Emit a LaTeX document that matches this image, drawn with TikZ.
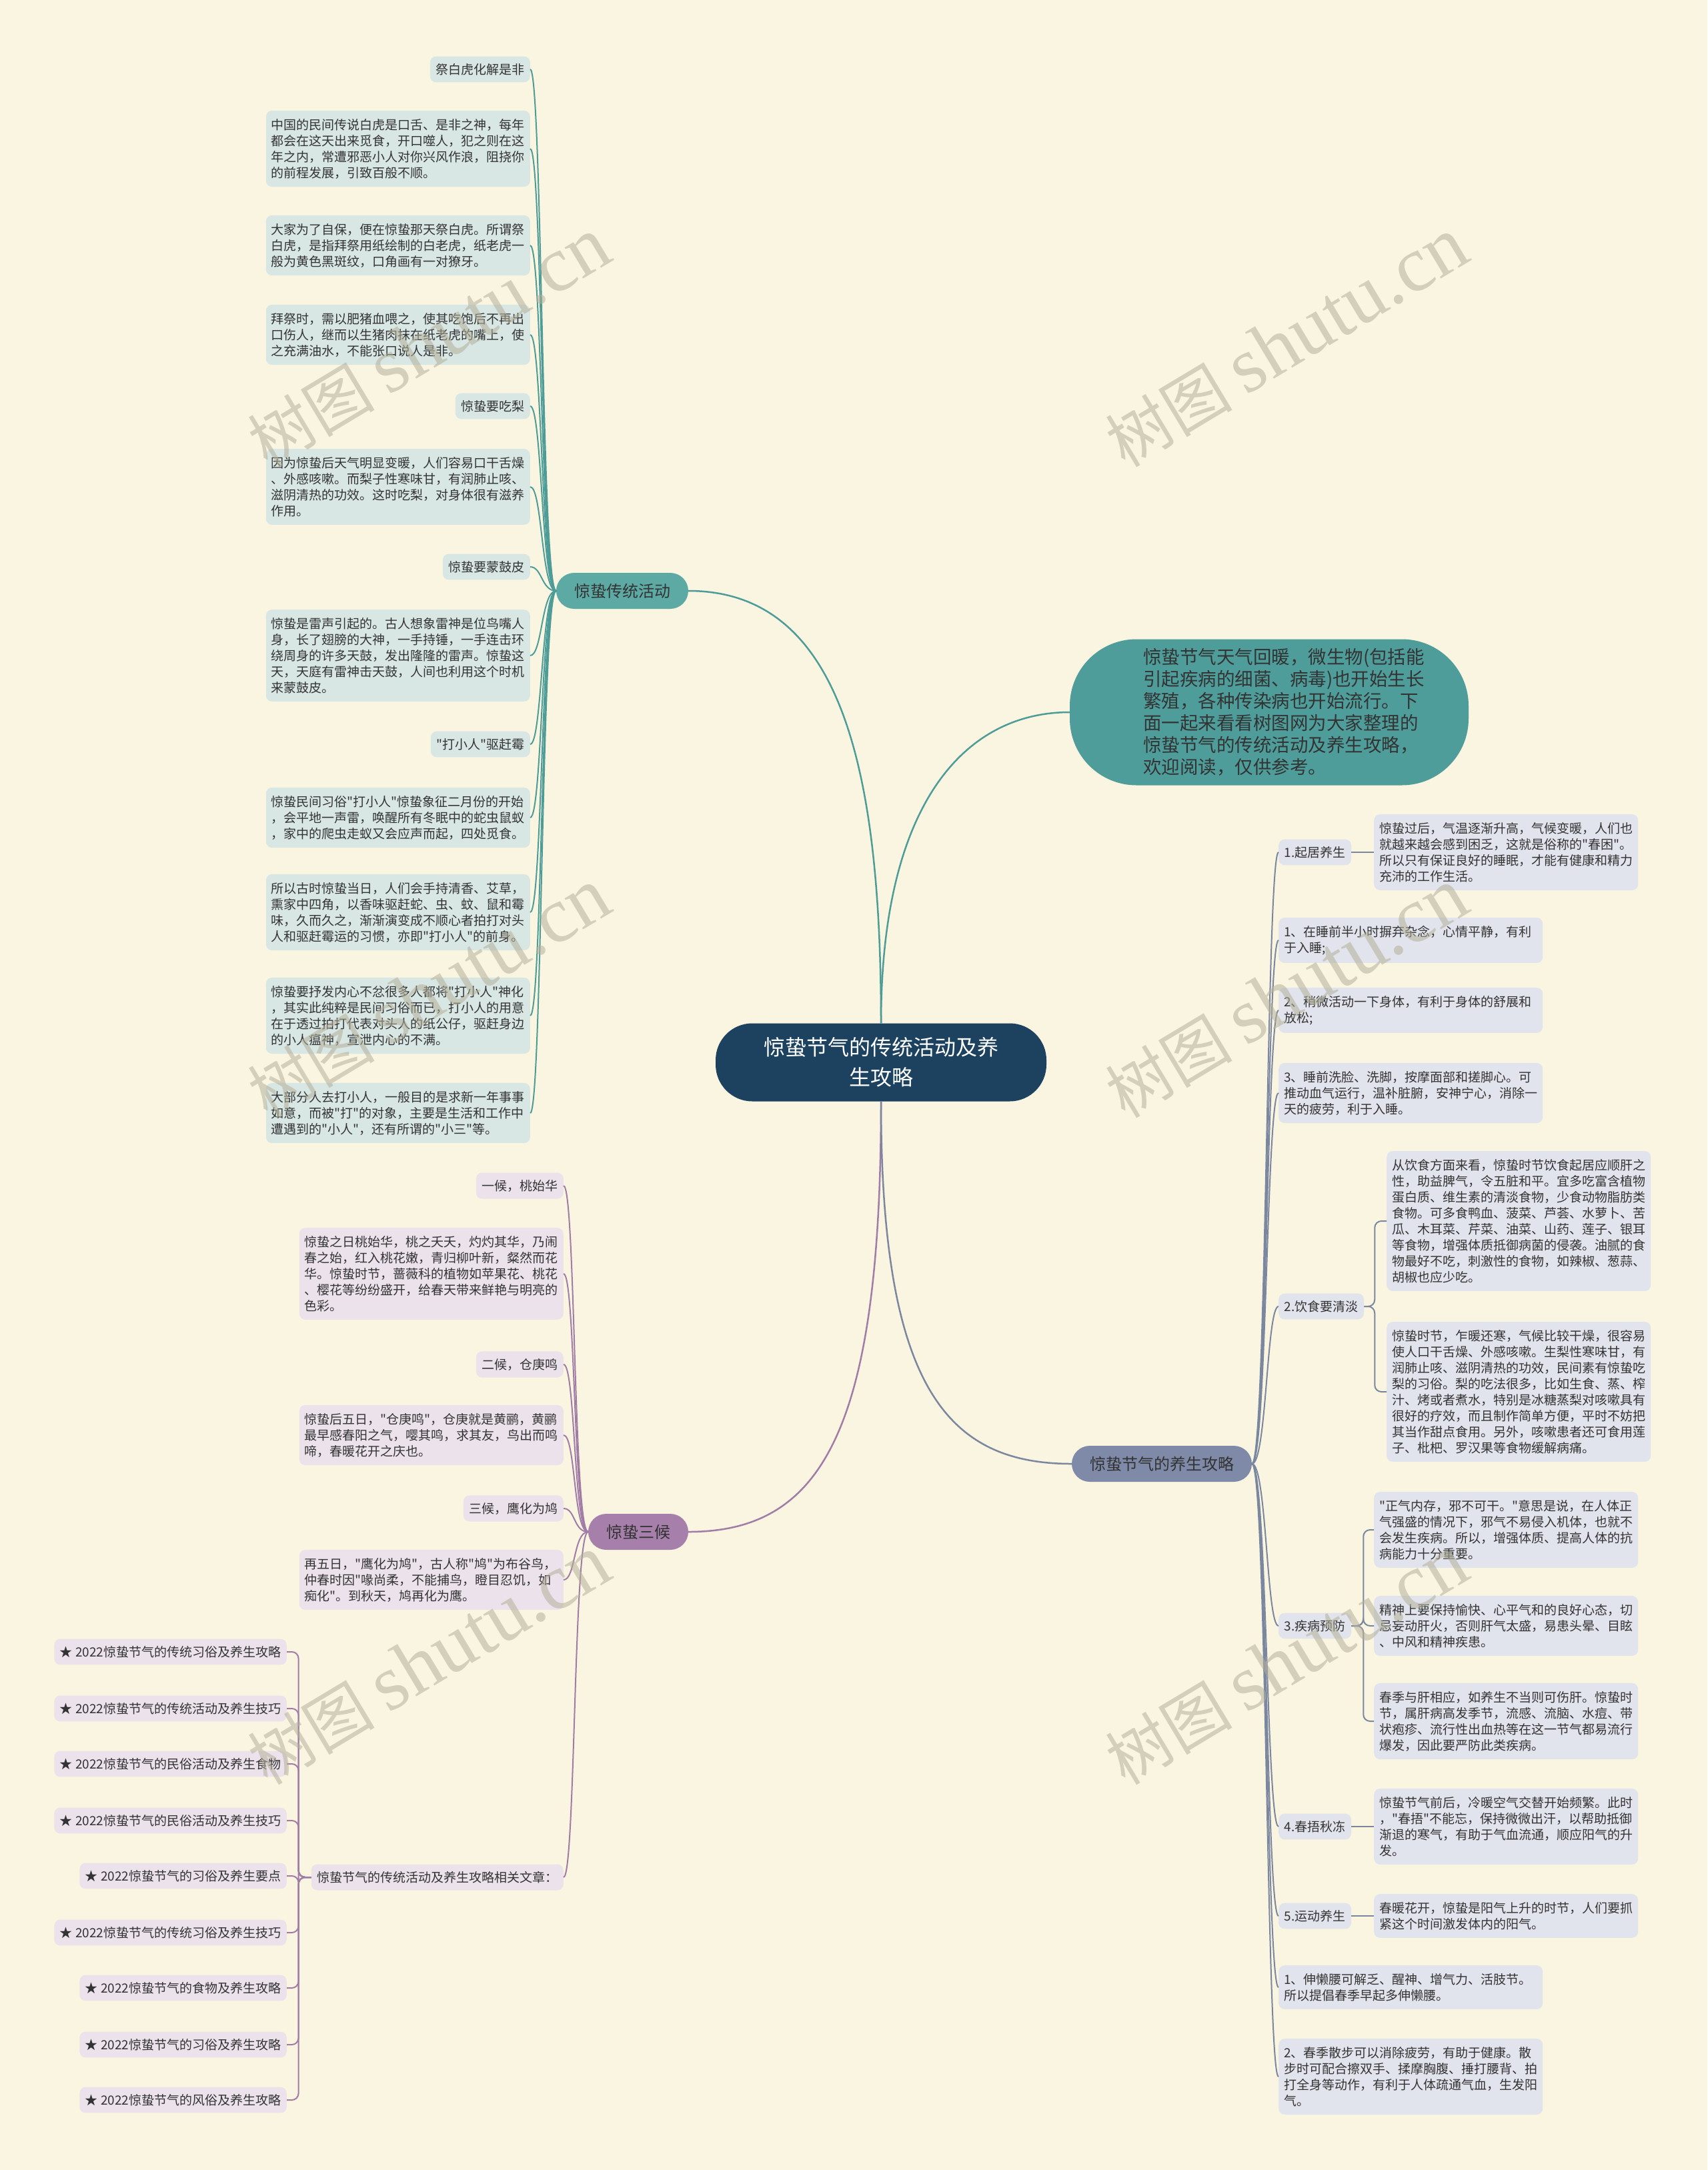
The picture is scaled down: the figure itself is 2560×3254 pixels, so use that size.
\documentclass[tikz,border=0pt]{standalone}
\usepackage{fontspec}
\setmainfont{Noto Sans CJK SC}[Ligatures=TeXOff]
\newfontfamily\wmlatin{Liberation Serif}

\definecolor{bg}{HTML}{FAF5E1}
\definecolor{ink}{HTML}{333333}
\definecolor{hubfill}{HTML}{1C4260}
\definecolor{introfill}{HTML}{4E9D9A}
\definecolor{tealln}{HTML}{4D9C98}
\definecolor{tealmid}{HTML}{5DA9A4}
\definecolor{tealbox}{HTML}{D8E6E4}
\definecolor{plumln}{HTML}{A07CA6}
\definecolor{plummid}{HTML}{A67FAA}
\definecolor{plumbox}{HTML}{EBE2EC}
\definecolor{slateln}{HTML}{7B879F}
\definecolor{slatemid}{HTML}{7F8AA8}
\definecolor{slatebox}{HTML}{E1E4EC}
\definecolor{wmgray}{HTML}{B3B09A}

\tikzset{
  leaf/.style={rounded corners=9pt, inner xsep=8pt, inner ysep=12pt, text width=380pt,
    align=left, text=ink, font=\fontsize{19}{24}\selectfont},
  tag/.style={rounded corners=9pt, inner xsep=8.5pt, inner ysep=10.5pt, text=ink,
    font=\fontsize{19}{24}\selectfont},
  tleaf/.style={leaf, fill=tealbox}, ttag/.style={tag, fill=tealbox},
  pleaf/.style={leaf, fill=plumbox}, ptag/.style={tag, fill=plumbox},
  sleaf/.style={leaf, fill=slatebox}, stag/.style={tag, fill=slatebox},
  branch/.style={rounded corners=27pt, minimum height=54pt, inner xsep=27pt, text=ink,
    font=\fontsize{24}{28}\selectfont},
  tealline/.style={draw=tealln, line width=2pt},
  plumline/.style={draw=plumln, line width=2pt},
  slateline/.style={draw=slateln, line width=2pt},
  wmark/.style={rotate=31, text=wmgray, opacity=0.55, font=\fontsize{95}{95}\selectfont}
}

\begin{document}
\begin{tikzpicture}[x=1pt, y=-1pt]
  \fill[bg] (0,0) rectangle (2560,3254);
  \useasboundingbox (0,0) rectangle (2560,3254);

  % centre and main branches
  \node[fill=hubfill, text=white, rounded corners=55pt, minimum width=496pt, minimum height=117pt,
    align=center, font=\fontsize{32}{45}\selectfont] (ctr) at (1321,1593) {惊蛰节气的传统活动及养\\生攻略};
  \node[fill=introfill, text=ink, rounded corners=100pt, minimum width=598pt, minimum height=219pt,
    text width=378pt, align=left, font=\fontsize{27.5}{33}\selectfont] (intro) at (1903,1068)
    {惊蛰节气天气回暖，微生物(包括能\\引起疾病的细菌、病毒)也开始生长\\繁殖，各种传染病也开始流行。下\\面一起来看看树图网为大家整理的\\惊蛰节气的传统活动及养生攻略，\\欢迎阅读，仅供参考。};
  \node[branch, fill=tealmid] (trad) at (933,886) {惊蛰传统活动};
  \node[branch, fill=plummid] (three) at (957,2297) {惊蛰三候};
  \node[branch, fill=slatemid] (care) at (1742,2195) {惊蛰节气的养生攻略};

  \draw[tealline, line width=2.5pt] (ctr.north) .. controls (1321,1150) and (1260,886) .. (trad.east);
  \draw[tealline, line width=2.5pt] (ctr.north) .. controls (1321,1200) and (1450,1068) .. (intro.west);
  \draw[plumline, line width=2.5pt] (ctr.south) .. controls (1321,2150) and (1230,2297) .. (three.east);
  \draw[slateline, line width=2.5pt] (ctr.south) .. controls (1321,2080) and (1420,2195) .. (care.west);

  % traditional activities
  \node[ttag, anchor=east] (l1) at (795,104) {祭白虎化解是非};
  \node[tleaf, anchor=east] (l2) at (795,223) {中国的民间传说白虎是口舌、是非之神，每年\\都会在这天出来觅食，开口噬人，犯之则在这\\年之内，常遭邪恶小人对你兴风作浪，阻挠你\\的前程发展，引致百般不顺。};
  \node[tleaf, anchor=east] (l3) at (795,368) {大家为了自保，便在惊蛰那天祭白虎。所谓祭\\白虎，是指拜祭用纸绘制的白老虎，纸老虎一\\般为黄色黑斑纹，口角画有一对獠牙。};
  \node[tleaf, anchor=east] (l4) at (795,502) {拜祭时，需以肥猪血喂之，使其吃饱后不再出\\口伤人，继而以生猪肉抹在纸老虎的嘴上，使\\之充满油水，不能张口说人是非。};
  \node[ttag, anchor=east] (l5) at (795,609) {惊蛰要吃梨};
  \node[tleaf, anchor=east] (l6) at (795,730) {因为惊蛰后天气明显变暖，人们容易口干舌燥\\、外感咳嗽。而梨子性寒味甘，有润肺止咳、\\滋阴清热的功效。这时吃梨，对身体很有滋养\\作用。};
  \node[ttag, anchor=east] (l7) at (795,850) {惊蛰要蒙鼓皮};
  \node[tleaf, anchor=east] (l8) at (795,983) {惊蛰是雷声引起的。古人想象雷神是位鸟嘴人\\身，长了翅膀的大神，一手持锤，一手连击环\\绕周身的许多天鼓，发出隆隆的雷声。惊蛰这\\天，天庭有雷神击天鼓，人间也利用这个时机\\来蒙鼓皮。};
  \node[ttag, anchor=east] (l9) at (795,1116) {"打小人"驱赶霉};
  \node[tleaf, anchor=east] (l10) at (795,1226) {惊蛰民间习俗"打小人"惊蛰象征二月份的开始\\，会平地一声雷，唤醒所有冬眠中的蛇虫鼠蚁\\，家中的爬虫走蚁又会应声而起，四处觅食。};
  \node[tleaf, anchor=east] (l11) at (795,1368) {所以古时惊蛰当日，人们会手持清香、艾草，\\熏家中四角，以香味驱赶蛇、虫、蚊、鼠和霉\\味，久而久之，渐渐演变成不顺心者拍打对头\\人和驱赶霉运的习惯，亦即"打小人"的前身。};
  \node[tleaf, anchor=east] (l12) at (795,1523) {惊蛰要抒发内心不忿很多人都将"打小人"神化\\，其实此纯粹是民间习俗而已，打小人的用意\\在于透过拍打代表对头人的纸公仔，驱赶身边\\的小人瘟神，宣泄内心的不满。};
  \node[tleaf, anchor=east] (l13) at (795,1669) {大部分人去打小人，一般目的是求新一年事事\\如意，而被"打"的对象，主要是生活和工作中\\遭遇到的"小人"，还有所谓的"小三"等。};
  \foreach \i in {1,...,13}
    \draw[tealline] (trad.west) .. controls +(-22,0) and +(18,0) .. (l\i.east);

  % three pentads
  \node[ptag, anchor=east] (p1) at (845,1778) {一候，桃始华};
  \node[pleaf, anchor=east] (p2) at (845,1910) {惊蛰之日桃始华，桃之夭夭，灼灼其华，乃闹\\春之始，红入桃花嫩，青归柳叶新，粲然而花\\华。惊蛰时节，蔷薇科的植物如苹果花、桃花\\、樱花等纷纷盛开，给春天带来鲜艳与明亮的\\色彩。};
  \node[ptag, anchor=east] (p3) at (845,2046) {二候，仓庚鸣};
  \node[pleaf, anchor=east] (p4) at (845,2152) {惊蛰后五日，"仓庚鸣"，仓庚就是黄鹂，黄鹂\\最早感春阳之气，嘤其鸣，求其友，鸟出而鸣\\啼，春暖花开之庆也。};
  \node[ptag, anchor=east] (p5) at (845,2262) {三候，鹰化为鸠};
  \node[pleaf, anchor=east] (p6) at (845,2369) {再五日，"鹰化为鸠"，古人称"鸠"为布谷鸟，\\仲春时因"喙尚柔，不能捕鸟，瞪目忍饥，如\\痴化"。到秋天，鸠再化为鹰。};
  \node[ptag, anchor=east] (p7) at (845,2815) {惊蛰节气的传统活动及养生攻略相关文章：};
  \foreach \i in {1,...,7}
    \draw[plumline] (three.west) .. controls +(-22,0) and +(18,0) .. (p\i.east);

  % related articles
  \foreach \i/\y/\t in {1/2477/传统习俗及养生攻略, 2/2562/传统活动及养生技巧, 3/2645/民俗活动及养生食物,
      4/2730/民俗活动及养生技巧, 5/2813/习俗及养生要点, 6/2898/传统习俗及养生技巧,
      7/2981/食物及养生攻略, 8/3066/习俗及养生攻略, 9/3149/风俗及养生攻略} {
    \node[ptag, anchor=east] (a\i) at (430,\y) {★ 2022惊蛰节气的\t};
    \draw[plumline, rounded corners=10pt] (p7.west) -- ++(-19,0) |- (a\i.east);
  }

  % health care
  \node[stag, anchor=west] (r1) at (1917,1278) {1.起居养生};
  \node[sleaf, anchor=west] (q1) at (2060,1278) {惊蛰过后，气温逐渐升高，气候变暖，人们也\\就越来越会感到困乏，这就是俗称的"春困"。\\所以只有保证良好的睡眠，才能有健康和精力\\充沛的工作生活。};
  \node[sleaf, anchor=west] (r2) at (1917,1410) {1、在睡前半小时摒弃杂念，心情平静，有利\\于入睡;};
  \node[sleaf, anchor=west] (r3) at (1917,1515) {2、稍微活动一下身体，有利于身体的舒展和\\放松;};
  \node[sleaf, anchor=west] (r4) at (1917,1639) {3、睡前洗脸、洗脚，按摩面部和搓脚心。可\\推动血气运行，温补脏腑，安神宁心，消除一\\天的疲劳，利于入睡。};
  \node[stag, anchor=west] (r5) at (1917,1959) {2.饮食要清淡};
  \node[sleaf, anchor=west] (f1) at (2079,1831) {从饮食方面来看，惊蛰时节饮食起居应顺肝之\\性，助益脾气，令五脏和平。宜多吃富含植物\\蛋白质、维生素的清淡食物，少食动物脂肪类\\食物。可多食鸭血、菠菜、芦荟、水萝卜、苦\\瓜、木耳菜、芹菜、油菜、山药、莲子、银耳\\等食物，增强体质抵御病菌的侵袭。油腻的食\\物最好不吃，刺激性的食物，如辣椒、葱蒜、\\胡椒也应少吃。};
  \node[sleaf, anchor=west] (f2) at (2079,2087) {惊蛰时节，乍暖还寒，气候比较干燥，很容易\\使人口干舌燥、外感咳嗽。生梨性寒味甘，有\\润肺止咳、滋阴清热的功效，民间素有惊蛰吃\\梨的习俗。梨的吃法很多，比如生食、蒸、榨\\汁、烤或者煮水，特别是冰糖蒸梨对咳嗽具有\\很好的疗效，而且制作简单方便，平时不妨把\\其当作甜点食用。另外，咳嗽患者还可食用莲\\子、枇杷、罗汉果等食物缓解病痛。};
  \node[stag, anchor=west] (r6) at (1917,2438) {3.疾病预防};
  \node[sleaf, anchor=west] (d1) at (2060,2294) {"正气内存，邪不可干。"意思是说，在人体正\\气强盛的情况下，邪气不易侵入机体，也就不\\会发生疾病。所以，增强体质、提高人体的抗\\病能力十分重要。};
  \node[sleaf, anchor=west] (d2) at (2060,2438) {精神上要保持愉快、心平气和的良好心态，切\\忌妄动肝火，否则肝气太盛，易患头晕、目眩\\、中风和精神疾患。};
  \node[sleaf, anchor=west] (d3) at (2060,2581) {春季与肝相应，如养生不当则可伤肝。惊蛰时\\节，属肝病高发季节，流感、流脑、水痘、带\\状疱疹、流行性出血热等在这一节气都易流行\\爆发，因此要严防此类疾病。};
  \node[stag, anchor=west] (r7) at (1917,2739) {4.春捂秋冻};
  \node[sleaf, anchor=west] (w1) at (2060,2739) {惊蛰节气前后，冷暖空气交替开始频繁。此时\\，"春捂"不能忘，保持微微出汗，以帮助抵御\\渐退的寒气，有助于气血流通，顺应阳气的升\\发。};
  \node[stag, anchor=west] (r8) at (1917,2873) {5.运动养生};
  \node[sleaf, anchor=west] (m1) at (2060,2873) {春暖花开，惊蛰是阳气上升的时节，人们要抓\\紧这个时间激发体内的阳气。};
  \node[sleaf, anchor=west] (r9) at (1917,2980) {1、伸懒腰可解乏、醒神、增气力、活肢节。\\所以提倡春季早起多伸懒腰。};
  \node[sleaf, anchor=west] (r10) at (1917,3114) {2、春季散步可以消除疲劳，有助于健康。散\\步时可配合擦双手、揉摩胸腹、捶打腰背、拍\\打全身等动作，有利于人体疏通气血，生发阳\\气。};
  \foreach \i in {1,...,10}
    \draw[slateline] (care.east) .. controls +(22,0) and +(-18,0) .. (r\i.west);
  \draw[slateline] (r1.east) -- (q1.west);
  \draw[slateline] (r7.east) -- (w1.west);
  \draw[slateline] (r8.east) -- (m1.west);
  \foreach \c in {f1,f2}
    \draw[slateline, rounded corners=10pt] (r5.east) -- ++(16,0) |- (\c.west);
  \foreach \c in {d1,d2,d3}
    \draw[slateline, rounded corners=10pt] (r6.east) -- ++(18,0) |- (\c.west);

  % watermark
  \foreach \x/\y [count=\k] in {643/514, 1929/514, 643/1490, 1929/1490, 643/2490, 1929/2490}
    \node[wmark] (wm\k) at (\x,\y) {树图 {\wmlatin\fontsize{118}{118}\selectfont shutu.cn}};
\end{tikzpicture}
\end{document}
